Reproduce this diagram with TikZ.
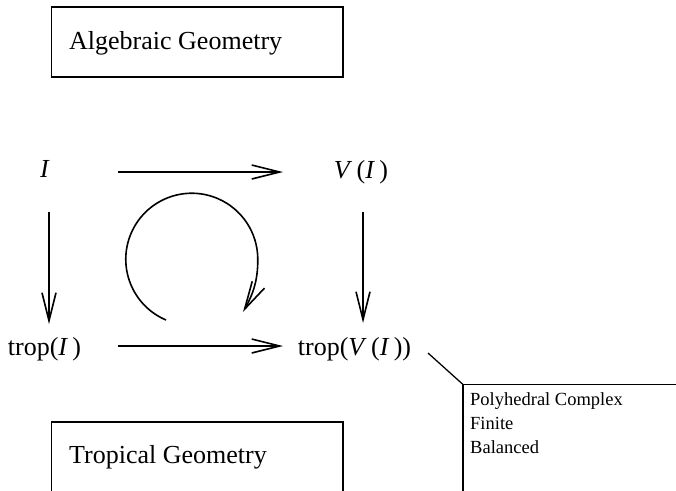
\documentclass[tikz,border=0pt]{standalone}
\usepackage{fontspec}
\setmainfont{Liberation Serif}
\usetikzlibrary{arrows.meta}
\tikzset{
  big/.style={font=\fontsize{26}{31}\selectfont, inner sep=0pt},
  small/.style={font=\fontsize{18.5}{24}\selectfont, inner sep=0pt, align=left},
  box/.style={draw, line width=1.4pt},
  conn/.style={line width=1.6pt, -{Straight Barb[length=28pt,width=14pt,line width=1.6pt]}},
}
\begin{document}
\begin{tikzpicture}[x=1pt,y=-1pt]
\clip (0,0) rectangle (676,490);
\useasboundingbox (0,0) rectangle (676,490);
% boxes
\draw[box] (51.5,7) rectangle (343,77);
\node[big, anchor=base west] (alg) at (69,49) {Algebraic Geometry};
\draw[box] (51.5,422) rectangle (343,520);
\node[big, anchor=base west] (trg) at (69,463) {Tropical Geometry};
% labels
\node[big, anchor=base] (I) at (45,177) {\textit{I}};
\node[big, anchor=base] (VI) at (361,178) {\textit{V}\,(\textit{I}\,)};
\node[big, anchor=base] (tI) at (44.5,355) {trop(\textit{I}\,)};
\node[big, anchor=base] (tVI) at (354.5,355) {trop(\textit{V}\,(\textit{I}\,))};
% arrow end coordinates
\coordinate (a1s) at (118,172); \coordinate (a1e) at (283,172);
\coordinate (a2s) at (118,346); \coordinate (a2e) at (283,346);
\coordinate (a3s) at (49,212);  \coordinate (a3e) at (49,324);
\coordinate (a4s) at (363,212); \coordinate (a4e) at (363,323);
\draw[conn] (a1s) -- (a1e);
\draw[conn] (a2s) -- (a2e);
\draw[conn] (a3s) -- (a3e);
\draw[conn] (a4s) -- (a4e);
% circular arrow
\coordinate (cs) at (166,320);
\coordinate (ce) at (243,312);
\draw[conn] (cs) arc[start angle=247, end angle=0, radius=66pt]
  .. controls (258,282) and (252,296) .. (ce);
% callout
\coordinate (cl1) at (428,353);
\coordinate (cl2) at (463,384.5);
\draw[line width=1.3pt] (cl1) -- (cl2);
\draw[box] (cl2) rectangle (700,520);
\node[small, anchor=base west] (p1) at (470,405) {Polyhedral Complex};
\node[small, anchor=base west] (p2) at (470,429) {Finite};
\node[small, anchor=base west] (p3) at (470,453) {Balanced};
\end{tikzpicture}
\end{document}
